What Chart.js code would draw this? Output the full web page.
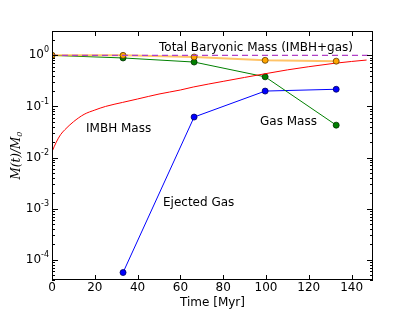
<!DOCTYPE html>
<html>
<head>
<meta charset="utf-8">
<script src="https://cdn.jsdelivr.net/npm/chart.js@4/dist/chart.umd.min.js"></script>
<style>
  html, body { margin: 0; padding: 0; background: #fff; }
  #wrap { width: 415px; height: 312px; }
</style>
</head>
<body>
<div id="wrap"><canvas id="myChart" width="415" height="312"></canvas></div>
<script>
// data
const times = [0, 33.2, 66.4, 99.6, 132.8];
const totalMass = [1.0, 1.0, 0.93, 0.80, 0.77];
const gasMass = [1.0, 0.89, 0.74, 0.38, 0.043];
const ejectedTimes = [33.2, 66.4, 99.6, 132.8];
const ejectedGas = [5.6e-5, 0.062, 0.20, 0.217];
const imbhTimes = [0, 2, 4, 6, 10, 15, 20, 25, 33, 40, 50, 60, 66, 80, 90, 100, 110, 120, 132, 140, 147];
const imbhMass = [0.013, 0.02, 0.028, 0.035, 0.05, 0.07, 0.085, 0.1, 0.12, 0.14, 0.175, 0.21, 0.24, 0.31, 0.37, 0.44, 0.52, 0.6, 0.70, 0.76, 0.81];
const xTicks = [0, 20, 40, 60, 80, 100, 120, 140];
const yTicks = [-4, -3, -2, -1, 0];

const labels = [
    { text: 'Total Baryonic Mass (IMBH+gas)', x: 159, y: 48 },
    { text: 'IMBH Mass', x: 86, y: 129 },
    { text: 'Gas Mass', x: 260, y: 122 },
    { text: 'Ejected Gas', x: 163, y: 203 }
];

const pts = (xs, ys) => xs.map((x, i) => ({ x: x, y: ys[i] }));

const axesPlugin = {
    id: 'axesPlugin',
    afterDraw(chart) {
        const ctx = chart.ctx;
        const a = chart.chartArea;
        const xs = chart.scales.x, ys = chart.scales.y;
        ctx.save();
        ctx.strokeStyle = '#000';
        ctx.lineWidth = 1;
        ctx.strokeRect(a.left + 0.5, a.top + 0.5, a.right - a.left - 1, a.bottom - a.top - 1);

        ctx.beginPath();
        xTicks.forEach(v => {
            const px = Math.round(xs.getPixelForValue(v)) + 0.5;
            ctx.moveTo(px, a.bottom); ctx.lineTo(px, a.bottom - 5);
            ctx.moveTo(px, a.top); ctx.lineTo(px, a.top + 5);
        });
        for (let e = -5; e <= 0; e++) {
            for (let m = 1; m <= 9; m++) {
                const v = m * Math.pow(10, e);
                if (v < ys.min || v > ys.max) continue;
                const py = Math.round(ys.getPixelForValue(v)) + 0.5;
                const len = m === 1 ? 6 : 3;
                ctx.moveTo(a.left, py); ctx.lineTo(a.left + len, py);
                ctx.moveTo(a.right, py); ctx.lineTo(a.right - len, py);
            }
        }
        ctx.stroke();

        ctx.fillStyle = '#000';
        ctx.font = '12px "DejaVu Sans"';
        ctx.textAlign = 'center';
        ctx.textBaseline = 'middle';
        xTicks.forEach(v => {
            ctx.fillText(String(v), xs.getPixelForValue(v), a.bottom + 8);
        });
        ctx.fillText('Time [Myr]', (a.left + a.right) / 2, a.bottom + 23);

        yTicks.forEach(e => {
            const py = ys.getPixelForValue(Math.pow(10, e));
            const sup = String(e);
            ctx.font = '8px "DejaVu Sans"';
            ctx.textAlign = 'right';
            const supW = ctx.measureText(sup).width;
            ctx.fillText(sup, a.left - 3, py - 5);
            ctx.font = '12px "DejaVu Sans"';
            ctx.fillText('10', a.left - 3 - supW, py);
        });

        // y title
        ctx.translate(17, (a.top + a.bottom) / 2);
        ctx.rotate(-Math.PI / 2);
        ctx.textAlign = 'left';
        ctx.font = 'italic 12px "DejaVu Serif"';
        const t1 = 'M(t)/M';
        const w1 = ctx.measureText(t1).width;
        ctx.font = 'italic 8px "DejaVu Serif"';
        const w2 = ctx.measureText('0').width;
        const x0 = -(w1 + w2) / 2;
        ctx.font = 'italic 12px "DejaVu Serif"';
        ctx.fillText(t1, x0, 0);
        ctx.font = 'italic 8px "DejaVu Serif"';
        ctx.fillText('0', x0 + w1, 3);
        ctx.restore();

        ctx.save();
        ctx.fillStyle = '#000';
        ctx.font = '12px "DejaVu Sans"';
        ctx.textAlign = 'left';
        ctx.textBaseline = 'middle';
        labels.forEach(l => ctx.fillText(l.text, l.x, l.y));
        ctx.restore();
    }
};

const ctx = document.getElementById('myChart').getContext('2d');
const myChart = new Chart(ctx, {
    type: 'line',
    data: {
        datasets: [
            {
                label: 'Total',
                data: pts(times, totalMass),
                borderColor: 'rgba(255,170,40,0.7)',
                borderWidth: 2,
                pointRadius: 3,
                pointBackgroundColor: '#ffa500',
                pointBorderColor: '#5a3a00',
                pointBorderWidth: 0.8,
                order: 1
            },
            {
                label: 'Gas',
                data: pts(times, gasMass),
                borderColor: '#008000',
                borderWidth: 1,
                pointRadius: 3,
                pointBackgroundColor: '#008000',
                pointBorderColor: '#003000',
                pointBorderWidth: 0.8,
                order: 3
            },
            {
                label: 'Ejected',
                data: pts(ejectedTimes, ejectedGas),
                borderColor: '#0000ff',
                borderWidth: 1,
                pointRadius: 3,
                pointBackgroundColor: '#0000ff',
                pointBorderColor: '#000060',
                pointBorderWidth: 0.8,
                order: 4
            },
            {
                label: 'IMBH',
                data: pts(imbhTimes, imbhMass),
                borderColor: '#ff0000',
                borderWidth: 1,
                pointRadius: 0,
                cubicInterpolationMode: 'monotone',
                order: 2
            },
            {
                label: 'Unity',
                data: pts([0, 150], [1, 1]),
                borderColor: '#b040c8',
                borderWidth: 1.2,
                borderDash: [6, 4],
                pointRadius: 0,
                order: 0
            }
        ]
    },
    options: {
        responsive: false,
        animation: false,
        layout: { padding: { left: 52, right: 42, top: 31, bottom: 32 } },
        plugins: {
            legend: { display: false },
            tooltip: { enabled: false }
        },
        scales: {
            x: { type: 'linear', min: 0, max: 150, display: false },
            y: { type: 'logarithmic', min: 4e-5, max: 3, display: false }
        }
    },
    plugins: [axesPlugin]
});
</script>
</body>
</html>
